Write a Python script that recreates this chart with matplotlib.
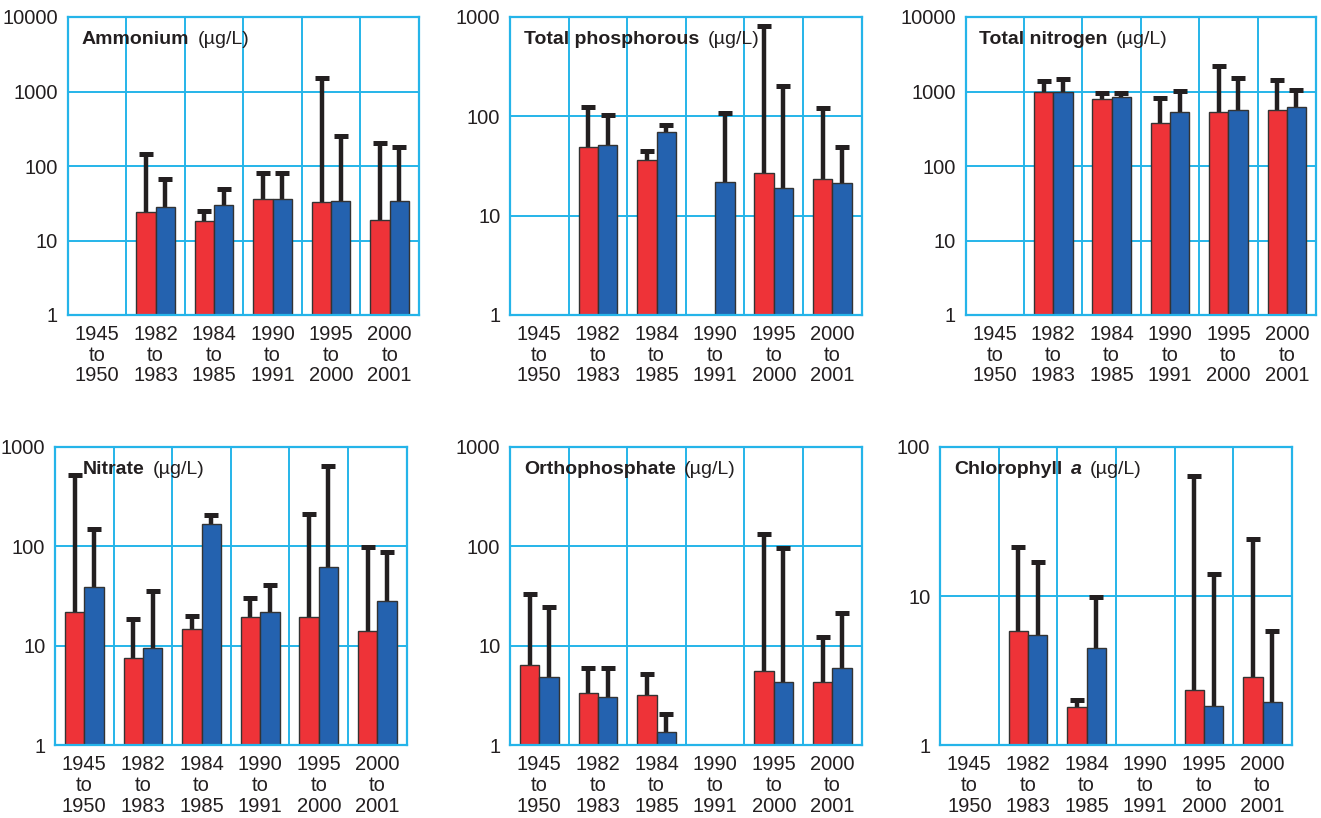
import numpy as np
import matplotlib
matplotlib.use("Agg")
import matplotlib.pyplot as plt
from matplotlib.offsetbox import TextArea, HPacker, AnchoredOffsetbox

nan = np.nan

periods = ["1945\nto\n1950", "1982\nto\n1983", "1984\nto\n1985",
           "1990\nto\n1991", "1995\nto\n2000", "2000\nto\n2001"]

# Ammonium (ug/L): bar value and top of error bar, red / blue series
ammonium_red = [nan, 24.5, 18.2, 36, 32.7, 19]
ammonium_red_err = [nan, 143, 25, 81, 1510, 203]
ammonium_blue = [nan, 28.3, 29.8, 36, 34, 34]
ammonium_blue_err = [nan, 66, 49, 81, 249, 179]

phos_red = [nan, 48.7, 36.3, nan, 27.1, 23.2]
phos_red_err = [nan, 125, 45, nan, 810, 120]
phos_blue = [nan, 51, 69, 22, 19.2, 21.2]
phos_blue_err = [nan, 102, 81, 108, 204, 49.4]

nitro_red = [nan, 970, 794, 379, 537, 566]
nitro_red_err = [nan, 1400, 945, 811, 2210, 1440]
nitro_blue = [nan, 970, 836, 537, 566, 614]
nitro_blue_err = [nan, 1455, 945, 1005, 1510, 1047]

nitrate_red = [22, 7.5, 14.6, 19.6, 19.6, 14.2]
nitrate_red_err = [519, 18.6, 20, 30.4, 211, 99]
nitrate_blue = [38.6, 9.4, 167, 22, 62.3, 28.4]
nitrate_blue_err = [148, 35.8, 206, 40.8, 644, 88]

ortho_red = [6.4, 3.33, 3.2, nan, 5.53, 4.29]
ortho_red_err = [32.9, 6.03, 5.2, nan, 133, 12.2]
ortho_blue = [4.82, 3.08, 1.37, nan, 4.29, 5.98]
ortho_blue_err = [24.3, 6.03, 2.05, nan, 95, 21.2]

chl_red = [nan, 5.86, 1.8, nan, 2.36, 2.85]
chl_red_err = [nan, 21.2, 2.01, nan, 64, 24]
chl_blue = [nan, 5.45, 4.46, nan, 1.84, 1.94]
chl_blue_err = [nan, 17, 9.9, nan, 14, 5.86]

RED = "#EE3338"
BLUE = "#2462AF"
GRID = "#25B4E9"
INK = "#231F20"
FONT = ["Liberation Sans", "DejaVu Sans"]

W, H = 1321, 818
fig = plt.figure(figsize=(W / 100, H / 100), dpi=100)
fig.patch.set_facecolor("white")

panels = [
    # (left, top, right, bottom) pixels, ymax decades, title parts, title x offset
    ((67.7, 17, 419, 315), 4, [("Ammonium", "bold", "normal"), ("(µg/L)", "normal", "normal")],
     ammonium_red, ammonium_red_err, ammonium_blue, ammonium_blue_err, 14),
    ((510, 17, 861.7, 315), 3, [("Total phosphorous", "bold", "normal"), ("(µg/L)", "normal", "normal")],
     phos_red, phos_red_err, phos_blue, phos_blue_err, 14),
    ((965.7, 17, 1316, 315), 4, [("Total nitrogen", "bold", "normal"), ("(µg/L)", "normal", "normal")],
     nitro_red, nitro_red_err, nitro_blue, nitro_blue_err, 13.5),
    ((55, 446.7, 406.7, 745.3), 3, [("Nitrate", "bold", "normal"), ("(µg/L)", "normal", "normal")],
     nitrate_red, nitrate_red_err, nitrate_blue, nitrate_blue_err, 27.7),
    ((510, 446.7, 861.7, 745.3), 3, [("Orthophosphate", "bold", "normal"), ("(µg/L)", "normal", "normal")],
     ortho_red, ortho_red_err, ortho_blue, ortho_blue_err, 14),
    ((940, 446.7, 1292, 745.3), 2, [("Chlorophyll", "bold", "normal"), ("a", "bold", "italic"),
                                    ("(µg/L)", "normal", "normal")],
     chl_red, chl_red_err, chl_blue, chl_blue_err, 14),
]

bw = 0.33
for (l, t, r, b), dec, title, red, red_err, blue, blue_err, tx in panels:
    ax = fig.add_axes([l / W, 1 - b / H, (r - l) / W, (b - t) / H])
    ax.set_yscale("log")
    ax.set_ylim(1, 10 ** dec)
    ax.set_xlim(0, 6)
    x = np.arange(6) + 0.5
    for vals, errs, off, col in [(red, red_err, -bw / 2, RED), (blue, blue_err, bw / 2, BLUE)]:
        vals = np.array(vals, float)
        errs = np.array(errs, float)
        ok = ~np.isnan(vals)
        ax.bar(x[ok] + off, vals[ok] - 1, bottom=1, width=bw, color=col,
               edgecolor="#333333", linewidth=1.0, zorder=3)
        # upper error bar only: stem from bar top to a thick cap
        ax.vlines(x[ok] + off, vals[ok], errs[ok], color=INK, lw=3.2, zorder=2)
        ax.plot(x[ok] + off, errs[ok], ls="none", marker="_", ms=10.5, mew=3.6,
                color=INK, zorder=2)
    yt = [10 ** k for k in range(dec + 1)]
    ax.set_yticks(yt)
    ax.set_yticklabels([str(v) for v in yt], family=FONT, fontsize=14.5, color=INK)
    ax.yaxis.set_minor_locator(matplotlib.ticker.NullLocator())
    ax.set_xticks(x)
    ax.set_xticklabels(periods, family=FONT, fontsize=14.5, color=INK, linespacing=1.12)
    ax.tick_params(length=0, pad=7)
    ax.tick_params(axis="x", pad=7)
    for yv in yt:
        ax.axhline(yv, color=GRID, lw=1.4, zorder=1)
    for xv in range(1, 6):
        ax.axvline(xv, color=GRID, lw=1.4, zorder=1)
    for s in ax.spines.values():
        s.set_color(GRID)
        s.set_linewidth(1.6)
        s.set_zorder(4)
    parts = [TextArea(txt, textprops=dict(family=FONT, fontsize=14, fontweight=wt,
                                          fontstyle=st, color=INK))
             for txt, wt, st in title]
    box = HPacker(children=parts, align="baseline", pad=0, sep=6)
    anch = AnchoredOffsetbox(loc="center left", child=box, pad=0, borderpad=0, frameon=False,
                             bbox_to_anchor=(tx / (r - l), 1 - 23 / (b - t)),
                             bbox_transform=ax.transAxes)
    anch.set_zorder(5)
    ax.add_artist(anch)

fig.savefig("out.png", dpi=100)
